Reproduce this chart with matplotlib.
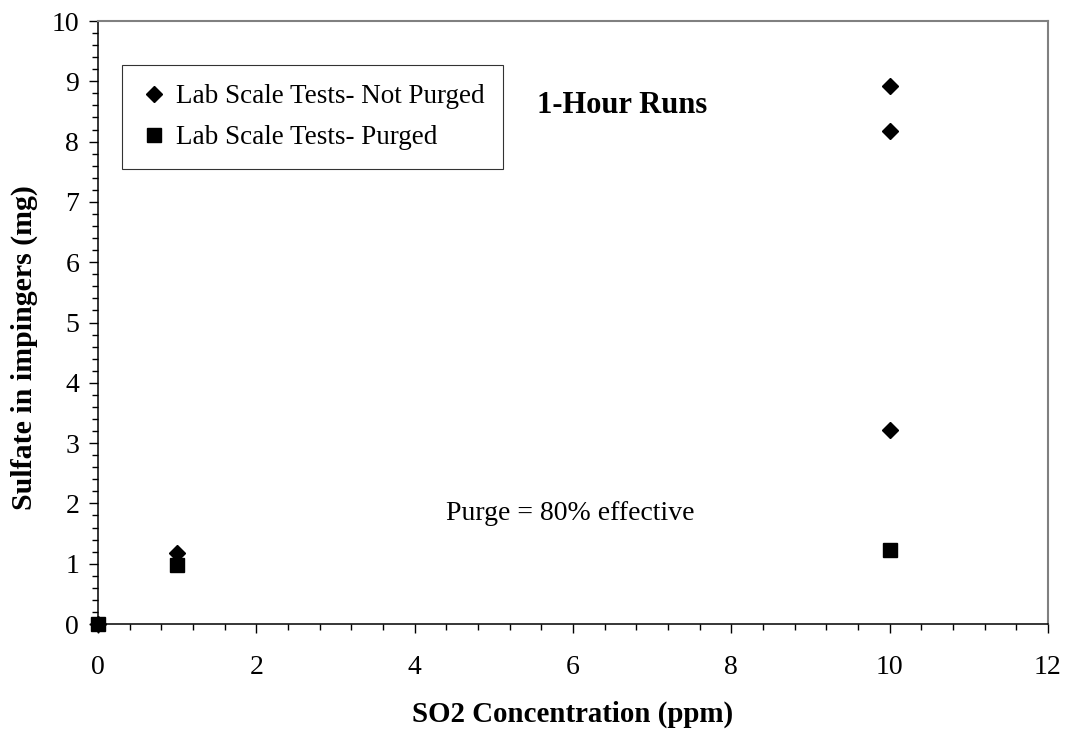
import matplotlib
matplotlib.use("Agg")
import matplotlib.pyplot as plt
from matplotlib.ticker import MultipleLocator

plt.rcParams["font.family"] = ["Liberation Serif", "DejaVu Serif"]

# data
not_purged_x = [0, 1, 10, 10, 10]
not_purged_y = [0, 1.17, 8.92, 8.17, 3.22]
purged_x = [0, 1, 10]
purged_y = [0, 0.98, 1.23]

fig = plt.figure(figsize=(10.65, 7.32), dpi=100)
ax = fig.add_axes([0.092, 0.1475, 0.892, 0.8238])

ax.plot(not_purged_x, not_purged_y, "D", color="black", ms=8, ls="none",
        clip_on=False, zorder=3, label="Lab Scale Tests- Not Purged")
ax.plot(purged_x, purged_y, "s", color="black", ms=10.5, ls="none",
        clip_on=False, zorder=4, label="Lab Scale Tests- Purged")

ax.set_xlim(0, 12)
ax.set_ylim(0, 10)
ax.xaxis.set_major_locator(MultipleLocator(2))
ax.xaxis.set_minor_locator(MultipleLocator(0.4))
ax.yaxis.set_major_locator(MultipleLocator(1))
ax.yaxis.set_minor_locator(MultipleLocator(0.2))
ax.tick_params(which="major", direction="out", length=6.5, width=1, labelsize=20,
               colors="black")
ax.tick_params(which="minor", direction="out", length=4.5, width=1)
ax.tick_params(axis="x", which="major", pad=15.5)
ax.tick_params(axis="y", which="major", pad=7)

for s in ("left", "bottom"):
    ax.spines[s].set_color("black")
    ax.spines[s].set_linewidth(1.1)
for s in ("top", "right"):
    ax.spines[s].set_color("#808080")
    ax.spines[s].set_linewidth(1.5)

ax.set_xlabel("SO2 Concentration (ppm)", fontsize=20.8, fontweight="bold", labelpad=15)
ax.set_ylabel("Sulfate in impingers (mg)", fontsize=21.5, fontweight="bold")
ax.yaxis.set_label_coords(-0.063, 0.458)

ax.text(6.62, 8.6, "1-Hour Runs", fontsize=22, fontweight="bold", ha="center", va="center")
ax.text(5.97, 1.84, "Purge = 80% effective", fontsize=20, ha="center", va="center")

leg = ax.legend(loc="upper left", bbox_to_anchor=(0.025, 0.927), fontsize=19.5,
                frameon=True, fancybox=False, handletextpad=0.3, handlelength=1.0,
                borderpad=0.7, labelspacing=0.6, borderaxespad=0)
leg.get_frame().set_edgecolor("black")
leg.get_frame().set_linewidth(0.8)

fig.savefig("out.png", dpi=100)
